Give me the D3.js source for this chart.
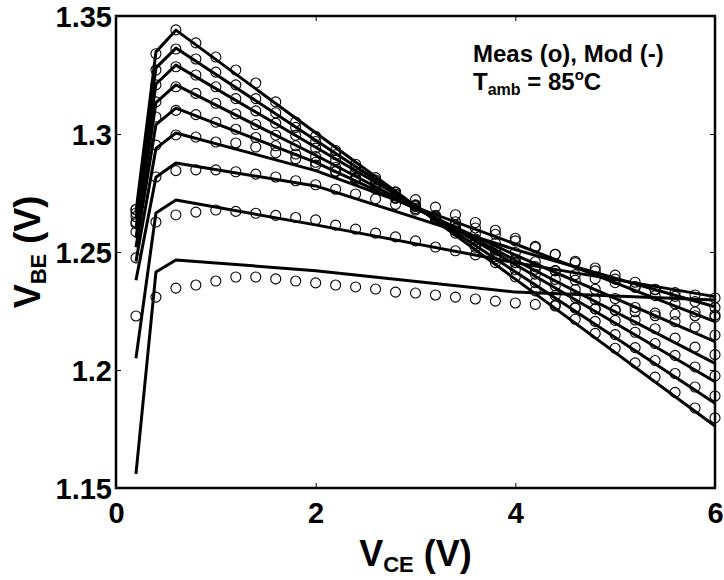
<!DOCTYPE html>
<html>
<head>
<meta charset="utf-8">
<script src="https://cdn.jsdelivr.net/npm/d3@7"></script>
<style>
  body { margin: 0; background: #fff; }
  text { font-family: "Liberation Sans", Arial, sans-serif; font-weight: bold; fill: #000; }
</style>
</head>
<body>
<svg width="724" height="580"></svg>
<script>
const width = 724;
const height = 580;
const margin = {top: 16, right: 9, bottom: 92, left: 116};

// V_CE grid of the measurements and of the model curves
const vceMeas = [0.2, 0.4, 0.6, 0.8, 1.0, 1.2, 1.4, 1.6, 1.8, 2.0, 2.2, 2.4, 2.6, 2.8, 3.0,
                 3.2, 3.4, 3.6, 3.8, 4.0, 4.2, 4.4, 4.6, 4.8, 5.0, 5.2, 5.4, 5.6, 5.8, 6.0];
const vceModel = [0.2, 0.4, 0.6, 2.0, 4.0, 6.0];

// measured V_BE (circles), one array per base current, top curve first
const meas1 = [1.2680, 1.3340, 1.3441, 1.3386, 1.3326, 1.3271, 1.3216, 1.3136, 1.3051, 1.2990, 1.2930, 1.2872, 1.2815, 1.2755, 1.2700,
               1.2640, 1.2580, 1.2520, 1.2455, 1.2395, 1.2335, 1.2275, 1.2215, 1.2155, 1.2092, 1.2030, 1.1970, 1.1905, 1.1839, 1.1797];
const meas2 = [1.2680, 1.3271, 1.3360, 1.3318, 1.3262, 1.3208, 1.3150, 1.3090, 1.3028, 1.2968, 1.2912, 1.2858, 1.2805, 1.2752, 1.2698,
               1.2644, 1.2590, 1.2536, 1.2480, 1.2425, 1.2370, 1.2316, 1.2262, 1.2206, 1.2150, 1.2095, 1.2040, 1.1985, 1.1928, 1.1890];
const meas3 = [1.2665, 1.3208, 1.3285, 1.3250, 1.3200, 1.3150, 1.3098, 1.3046, 1.2994, 1.2940, 1.2890, 1.2840, 1.2792, 1.2744, 1.2696,
               1.2648, 1.2600, 1.2552, 1.2504, 1.2455, 1.2406, 1.2357, 1.2308, 1.2259, 1.2210, 1.2160, 1.2112, 1.2062, 1.2013, 1.1975];
const meas4 = [1.2650, 1.3136, 1.3200, 1.3172, 1.3130, 1.3085, 1.3040, 1.2995, 1.2950, 1.2904, 1.2858, 1.2814, 1.2770, 1.2727, 1.2684,
               1.2641, 1.2598, 1.2555, 1.2512, 1.2470, 1.2427, 1.2384, 1.2341, 1.2298, 1.2255, 1.2212, 1.2175, 1.2135, 1.2097, 1.2065];
const meas5 = [1.2627, 1.3072, 1.3100, 1.3082, 1.3050, 1.3020, 1.2985, 1.2950, 1.2915, 1.2880, 1.2843, 1.2806, 1.2768, 1.2730, 1.2692,
               1.2654, 1.2615, 1.2576, 1.2537, 1.2498, 1.2459, 1.2420, 1.2381, 1.2342, 1.2303, 1.2265, 1.2230, 1.2205, 1.2182, 1.2148];
const meas6 = [1.2620, 1.2953, 1.2996, 1.2987, 1.2966, 1.2962, 1.2945, 1.2920, 1.2895, 1.2868, 1.2840, 1.2812, 1.2783, 1.2753, 1.2722,
               1.2690, 1.2658, 1.2625, 1.2592, 1.2558, 1.2524, 1.2490, 1.2455, 1.2420, 1.2385, 1.2350, 1.2315, 1.2280, 1.2246, 1.2233];
const meas7 = [1.2585, 1.2818, 1.2845, 1.2848, 1.2848, 1.2840, 1.2830, 1.2818, 1.2802, 1.2785, 1.2766, 1.2746, 1.2725, 1.2702, 1.2678,
               1.2654, 1.2628, 1.2602, 1.2575, 1.2547, 1.2519, 1.2490, 1.2461, 1.2432, 1.2402, 1.2372, 1.2342, 1.2312, 1.2290, 1.2265];
const meas8 = [1.2475, 1.2627, 1.2657, 1.2669, 1.2678, 1.2672, 1.2664, 1.2655, 1.2646, 1.2636, 1.2614, 1.2597, 1.2580, 1.2564, 1.2547,
               1.2521, 1.2505, 1.2488, 1.2471, 1.2455, 1.2438, 1.2421, 1.2404, 1.2387, 1.2370, 1.2354, 1.2340, 1.2328, 1.2318, 1.2305];
const meas9 = [1.2229, 1.2309, 1.2347, 1.2360, 1.2377, 1.2394, 1.2394, 1.2386, 1.2377, 1.2369, 1.2360, 1.2352, 1.2343, 1.2330, 1.2326,
               1.2318, 1.2309, 1.2301, 1.2292, 1.2284, 1.2278, 1.2271, 1.2265, 1.2259, 1.2253, 1.2247, 1.2241, 1.2236, 1.2230, 1.2225];

// modelled V_BE (solid lines)
const mod1 = [1.267, 1.3348, 1.3440, 1.3005, 1.2385, 1.1763];
const mod2 = [1.264, 1.3280, 1.3364, 1.2974, 1.2416, 1.1859];
const mod3 = [1.260, 1.3212, 1.3292, 1.2944, 1.2447, 1.1950];
const mod4 = [1.256, 1.3133, 1.3208, 1.2910, 1.2465, 1.2028];
const mod5 = [1.252, 1.3040, 1.3110, 1.2880, 1.2487, 1.2120];
const mod6 = [1.246, 1.2939, 1.3004, 1.2845, 1.2534, 1.2205];
const mod7 = [1.238, 1.2817, 1.2877, 1.2780, 1.2510, 1.2268];
const mod8 = [1.205, 1.2665, 1.2720, 1.2615, 1.2455, 1.2311];
const mod9 = [1.156, 1.2415, 1.2466, 1.2421, 1.2330, 1.2297];

const xTicks = [0, 2, 4, 6];
const yTicks = [1.15, 1.2, 1.25, 1.3, 1.35];
const yTickLabels = ['1.15', '1.2', '1.25', '1.3', '1.35'];

const measSeries = [meas1, meas2, meas3, meas4, meas5, meas6, meas7, meas8, meas9];
const modSeries = [mod1, mod2, mod3, mod4, mod5, mod6, mod7, mod8, mod9];

const svg = d3.select('svg');

const xScale = d3.scaleLinear()
    .domain([0, 6])
    .range([margin.left, width - margin.right]);

const yScale = d3.scaleLinear()
    .domain([1.15, 1.35])
    .range([height - margin.bottom, margin.top]);

const line = d3.line()
    .x(d => xScale(d[0]))
    .y(d => yScale(d[1]));

// model lines
svg.append('g')
    .selectAll('path')
    .data(modSeries)
    .enter()
    .append('path')
    .attr('d', s => line(vceModel.map((x, i) => [x, s[i]])))
    .attr('fill', 'none')
    .attr('stroke', '#000')
    .attr('stroke-width', 3)
    .attr('stroke-linejoin', 'round');

// measured circles
svg.append('g')
    .selectAll('g')
    .data(measSeries)
    .enter()
    .append('g')
    .selectAll('circle')
    .data(s => vceMeas.map((x, i) => [x, s[i]]))
    .enter()
    .append('circle')
    .attr('cx', d => xScale(d[0]))
    .attr('cy', d => yScale(d[1]))
    .attr('r', 5)
    .attr('fill', 'none')
    .attr('stroke', '#000')
    .attr('stroke-width', 1.1);

// axes: ticks pointing inwards on all four sides
const tick = 5;
const axisB = d3.axisBottom(xScale).tickValues(xTicks).tickSize(-tick).tickPadding(14).tickFormat(d3.format('d'));
const axisT = d3.axisTop(xScale).tickValues(xTicks).tickSize(-tick).tickFormat('');
const axisL = d3.axisLeft(yScale).tickValues(yTicks).tickSize(-tick).tickPadding(4)
    .tickFormat((d, i) => yTickLabels[i]);
const axisR = d3.axisRight(yScale).tickValues(yTicks).tickSize(-tick).tickFormat('');

svg.append('g').attr('class', 'x-axis')
    .attr('transform', `translate(0, ${height - margin.bottom})`).call(axisB);
svg.append('g')
    .attr('transform', `translate(0, ${margin.top})`).call(axisT);
svg.append('g').attr('class', 'y-axis')
    .attr('transform', `translate(${margin.left}, 0)`).call(axisL);
svg.append('g')
    .attr('transform', `translate(${width - margin.right}, 0)`).call(axisR);

svg.selectAll('.domain').remove();
svg.selectAll('.tick line').attr('stroke', '#000').attr('stroke-width', 1);
svg.selectAll('.tick text')
    .style('font-family', '"Liberation Sans", Arial, sans-serif')
    .style('font-weight', 'bold')
    .style('font-size', '29px')
    .attr('fill', '#000');
svg.selectAll('.y-axis .tick text').attr('dy', '0.36em');

// frame
svg.append('rect')
    .attr('x', margin.left)
    .attr('y', margin.top)
    .attr('width', width - margin.left - margin.right)
    .attr('height', height - margin.top - margin.bottom)
    .attr('fill', 'none')
    .attr('stroke', '#000')
    .attr('stroke-width', 2.5);

// axis titles
const xTitle = svg.append('text')
    .attr('x', (margin.left + width - margin.right) / 2)
    .attr('y', 566)
    .style('text-anchor', 'middle')
    .style('font-size', '36px');
xTitle.append('tspan').text('V');
xTitle.append('tspan').attr('dy', 6).style('font-size', '22px').text('CE');
xTitle.append('tspan').attr('dy', -6).text(' (V)');

const yTitle = svg.append('text')
    .attr('transform', 'rotate(-90)')
    .attr('x', -(margin.top + height - margin.bottom) / 2)
    .attr('y', 40)
    .style('text-anchor', 'middle')
    .style('font-size', '36px');
yTitle.append('tspan').text('V');
yTitle.append('tspan').attr('dy', 6).style('font-size', '22px').text('BE');
yTitle.append('tspan').attr('dy', -6).text(' (V)');

// legend text
svg.append('text')
    .attr('x', 473)
    .attr('y', 62)
    .style('font-size', '24px')
    .text('Meas (o), Mod (-)');

const tText = svg.append('text')
    .attr('x', 473)
    .attr('y', 90)
    .style('font-size', '24px');
tText.append('tspan').text('T');
tText.append('tspan').attr('dy', 5).style('font-size', '16px').text('amb');
tText.append('tspan').attr('dy', -5).text(' = 85');
tText.append('tspan').attr('dy', -10).style('font-size', '15px').text('o');
tText.append('tspan').attr('dy', 10).text('C');
</script>
</body>
</html>
